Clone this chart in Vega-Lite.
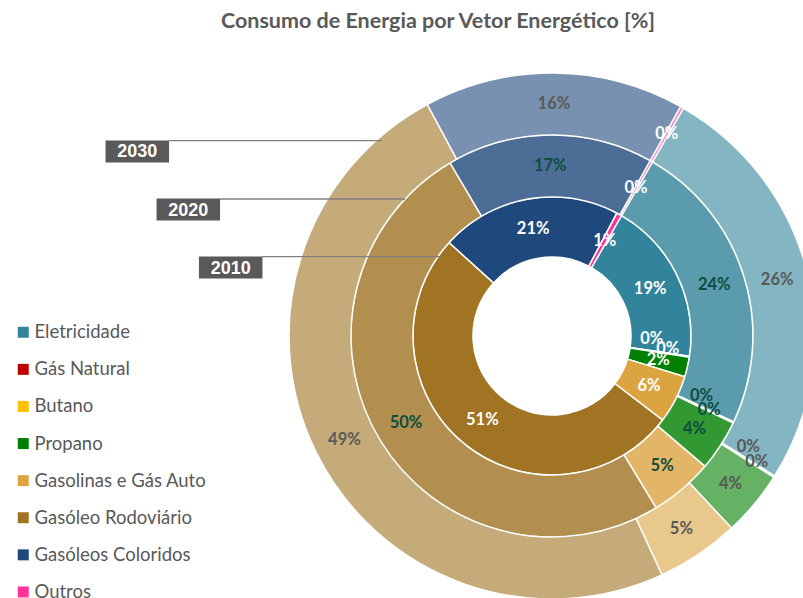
{
  "$schema": "https://vega.github.io/schema/vega-lite/v6.json",
  "width": 502,
  "height": 524,
  "autosize": {"type": "none"},
  "padding": {"left": 301, "top": 74, "right": 0, "bottom": 0},
  "background": "white",
  "title": {
    "text": "Consumo de Energia por Vetor Energético [%]",
    "font": "Lato",
    "fontSize": 21.5,
    "fontWeight": "bold",
    "color": "#595959",
    "anchor": "middle",
    "frame": "group",
    "dx": -114,
    "offset": 38
  },
  "config": {"view": {"stroke": null}, "font": "Lato"},
  "datasets": {
    "energia": [
      {"Year": 2010, "k": 1, "Category": "Eletricidade", "Value": 0.190},
      {"Year": 2010, "k": 2, "Category": "Gás Natural", "Value": 0.0005},
      {"Year": 2010, "k": 3, "Category": "Butano", "Value": 0.0005},
      {"Year": 2010, "k": 4, "Category": "Propano", "Value": 0.023},
      {"Year": 2010, "k": 5, "Category": "Gasolinas e Gás Auto", "Value": 0.056},
      {"Year": 2010, "k": 6, "Category": "Gasóleo Rodoviário", "Value": 0.514},
      {"Year": 2010, "k": 7, "Category": "Gasóleos Coloridos", "Value": 0.210},
      {"Year": 2010, "k": 8, "Category": "Outros", "Value": 0.006},
      {"Year": 2020, "k": 1, "Category": "Eletricidade", "Value": 0.237},
      {"Year": 2020, "k": 2, "Category": "Gás Natural", "Value": 0.0005},
      {"Year": 2020, "k": 3, "Category": "Butano", "Value": 0.0005},
      {"Year": 2020, "k": 4, "Category": "Propano", "Value": 0.041},
      {"Year": 2020, "k": 5, "Category": "Gasolinas e Gás Auto", "Value": 0.051},
      {"Year": 2020, "k": 6, "Category": "Gasóleo Rodoviário", "Value": 0.502},
      {"Year": 2020, "k": 7, "Category": "Gasóleos Coloridos", "Value": 0.166},
      {"Year": 2020, "k": 8, "Category": "Outros", "Value": 0.002},
      {"Year": 2030, "k": 1, "Category": "Eletricidade", "Value": 0.256},
      {"Year": 2030, "k": 2, "Category": "Gás Natural", "Value": 0.0005},
      {"Year": 2030, "k": 3, "Category": "Butano", "Value": 0.0005},
      {"Year": 2030, "k": 4, "Category": "Propano", "Value": 0.040},
      {"Year": 2030, "k": 5, "Category": "Gasolinas e Gás Auto", "Value": 0.051},
      {"Year": 2030, "k": 6, "Category": "Gasóleo Rodoviário", "Value": 0.490},
      {"Year": 2030, "k": 7, "Category": "Gasóleos Coloridos", "Value": 0.160},
      {"Year": 2030, "k": 8, "Category": "Outros", "Value": 0.002}
    ],
    "anos": [{"Year": 2010}, {"Year": 2020}, {"Year": 2030}]
  },
  "layer": [
    {
      "data": {"name": "energia"},
      "transform": [{"filter": "datum.Year == 2010"}],
      "encoding": {
        "theta": {"field": "Value", "type": "quantitative", "stack": "normalize", "scale": {"range": [0.5236, 6.8068]}},
        "order": {"field": "k", "type": "quantitative"}
      },
      "layer": [
        {
          "mark": {"type": "arc", "radius": 139, "radius2": 79, "stroke": "white", "strokeWidth": 1.5, "opacity": 1},
          "encoding": {
            "color": {
              "field": "Category", "type": "nominal",
              "scale": {
                "domain": ["Eletricidade", "Gás Natural", "Butano", "Propano", "Gasolinas e Gás Auto", "Gasóleo Rodoviário", "Gasóleos Coloridos", "Outros"],
                "range": ["#31849B", "#C00000", "#FFC000", "#008000", "#DCA440", "#A07422", "#1F497D", "#FF3399"]
              },
              "legend": {
                "orient": "none", "legendX": -287, "legendY": 249, "title": null,
                "symbolType": "square", "symbolSize": 121, "symbolOpacity": 1, "symbolStrokeWidth": 0,
                "labelFont": "Lato", "labelFontSize": 18.5, "labelColor": "#595959", "labelOffset": 2,
                "rowPadding": 18.1, "labelLimit": 300
              }
            }
          }
        },
        {
          "mark": {"type": "text", "radius": 109, "font": "Lato", "fontWeight": "bold", "fontSize": 16.5, "color": "white"},
          "encoding": {"text": {"condition": {"test": "datum.Category != 'Gás Natural' && datum.Category != 'Butano'", "field": "Value", "type": "quantitative", "format": ".0%"}, "value": ""}}
        },
        {
          "mark": {"type": "text", "radius": 109, "dx": -8, "dy": -13, "font": "Lato", "fontWeight": "bold", "fontSize": 16.5, "color": "white"},
          "encoding": {"text": {"condition": {"test": "datum.Category == 'Gás Natural'", "field": "Value", "type": "quantitative", "format": ".0%"}, "value": ""}}
        },
        {
          "mark": {"type": "text", "radius": 109, "dx": 8, "dy": -3, "font": "Lato", "fontWeight": "bold", "fontSize": 16.5, "color": "white"},
          "encoding": {"text": {"condition": {"test": "datum.Category == 'Butano'", "field": "Value", "type": "quantitative", "format": ".0%"}, "value": ""}}
        }
      ]
    },
    {
      "data": {"name": "energia"},
      "transform": [{"filter": "datum.Year == 2020"}],
      "encoding": {
        "theta": {"field": "Value", "type": "quantitative", "stack": "normalize"},
        "order": {"field": "k", "type": "quantitative"}
      },
      "layer": [
        {
          "mark": {"type": "arc", "radius": 201, "radius2": 139, "stroke": "white", "strokeWidth": 1.5, "opacity": 0.8},
          "encoding": {"color": {"field": "Category", "type": "nominal"}}
        },
        {
          "mark": {"type": "text", "radius": 170, "font": "Lato", "fontWeight": "bold", "fontSize": 16.5},
          "encoding": {
            "text": {"condition": {"test": "datum.Category != 'Gás Natural' && datum.Category != 'Butano'", "field": "Value", "type": "quantitative", "format": ".0%"}, "value": ""},
            "color": {"condition": {"test": "datum.Category == 'Outros'", "value": "white"}, "value": "#0E4D40"}
          }
        },
        {
          "mark": {"type": "text", "radius": 170, "dx": -4, "dy": -13, "font": "Lato", "fontWeight": "bold", "fontSize": 16.5, "color": "#0E4D40"},
          "encoding": {"text": {"condition": {"test": "datum.Category == 'Gás Natural'", "field": "Value", "type": "quantitative", "format": ".0%"}, "value": ""}}
        },
        {
          "mark": {"type": "text", "radius": 170, "dx": 4, "dy": 1, "font": "Lato", "fontWeight": "bold", "fontSize": 16.5, "color": "#0E4D40"},
          "encoding": {"text": {"condition": {"test": "datum.Category == 'Butano'", "field": "Value", "type": "quantitative", "format": ".0%"}, "value": ""}}
        }
      ]
    },
    {
      "data": {"name": "energia"},
      "transform": [{"filter": "datum.Year == 2030"}],
      "encoding": {
        "theta": {"field": "Value", "type": "quantitative", "stack": "normalize"},
        "order": {"field": "k", "type": "quantitative"}
      },
      "layer": [
        {
          "mark": {"type": "arc", "radius": 263, "radius2": 201, "stroke": "white", "strokeWidth": 1.5, "opacity": 0.6},
          "encoding": {"color": {"field": "Category", "type": "nominal"}}
        },
        {
          "mark": {"type": "text", "radius": 232, "font": "Lato", "fontWeight": "bold", "fontSize": 16.5},
          "encoding": {
            "text": {"condition": {"test": "datum.Category != 'Gás Natural' && datum.Category != 'Butano'", "field": "Value", "type": "quantitative", "format": ".0%"}, "value": ""},
            "color": {"condition": {"test": "datum.Category == 'Outros'", "value": "white"}, "value": "#595959"}
          }
        },
        {
          "mark": {"type": "text", "radius": 232, "dx": 0, "dy": -13, "font": "Lato", "fontWeight": "bold", "fontSize": 16.5, "color": "#595959"},
          "encoding": {"text": {"condition": {"test": "datum.Category == 'Gás Natural'", "field": "Value", "type": "quantitative", "format": ".0%"}, "value": ""}}
        },
        {
          "mark": {"type": "text", "radius": 232, "dx": 9, "dy": 2, "font": "Lato", "fontWeight": "bold", "fontSize": 16.5, "color": "#595959"},
          "encoding": {"text": {"condition": {"test": "datum.Category == 'Butano'", "field": "Value", "type": "quantitative", "format": ".0%"}, "value": ""}}
        }
      ]
    },
    {
      "data": {"name": "anos"},
      "layer": [
        {
          "mark": {"type": "tick", "orient": "horizontal", "thickness": 1.3, "color": "#7F7F7F", "opacity": 1},
          "encoding": {
            "x": {"field": "Year", "type": "quantitative", "axis": null, "scale": {"domain": [2010, 2020, 2030], "range": [50, 11.5, -25.5], "zero": false, "nice": false}},
            "y": {"field": "Year", "type": "quantitative", "axis": null, "scale": {"domain": [2010, 2020, 2030], "range": [182.7, 125, 66.7], "zero": false, "nice": false}},
            "size": {"field": "Year", "type": "quantitative", "legend": null, "scale": {"domain": [2010, 2020, 2030], "range": [178, 185, 213], "zero": false, "nice": false}}
          }
        },
        {
          "mark": {"type": "tick", "orient": "horizontal", "thickness": 22, "size": 63.5, "color": "#595959", "opacity": 1},
          "encoding": {
            "x": {"field": "Year", "type": "quantitative", "axis": null, "scale": {"domain": [2010, 2020, 2030], "range": [-70.3, -112.7, -163.7], "zero": false, "nice": false}},
            "y": {"field": "Year", "type": "quantitative", "axis": null, "scale": {"domain": [2010, 2020, 2030], "range": [193.5, 135.5, 77.4], "zero": false, "nice": false}}
          }
        },
        {
          "mark": {"type": "text", "font": "Liberation Sans", "fontWeight": "bold", "fontSize": 18, "color": "white", "align": "center", "baseline": "middle"},
          "encoding": {
            "x": {"field": "Year", "type": "quantitative", "axis": null, "scale": {"domain": [2010, 2020, 2030], "range": [-70.3, -112.7, -163.7], "zero": false, "nice": false}},
            "y": {"field": "Year", "type": "quantitative", "axis": null, "scale": {"domain": [2010, 2020, 2030], "range": [194.5, 136.5, 78.4], "zero": false, "nice": false}},
            "text": {"field": "Year", "type": "nominal"}
          }
        }
      ],
      "resolve": {"scale": {"x": "independent", "y": "independent"}}
    }
  ],
  "resolve": {"scale": {"x": "independent", "y": "independent"}}
}
